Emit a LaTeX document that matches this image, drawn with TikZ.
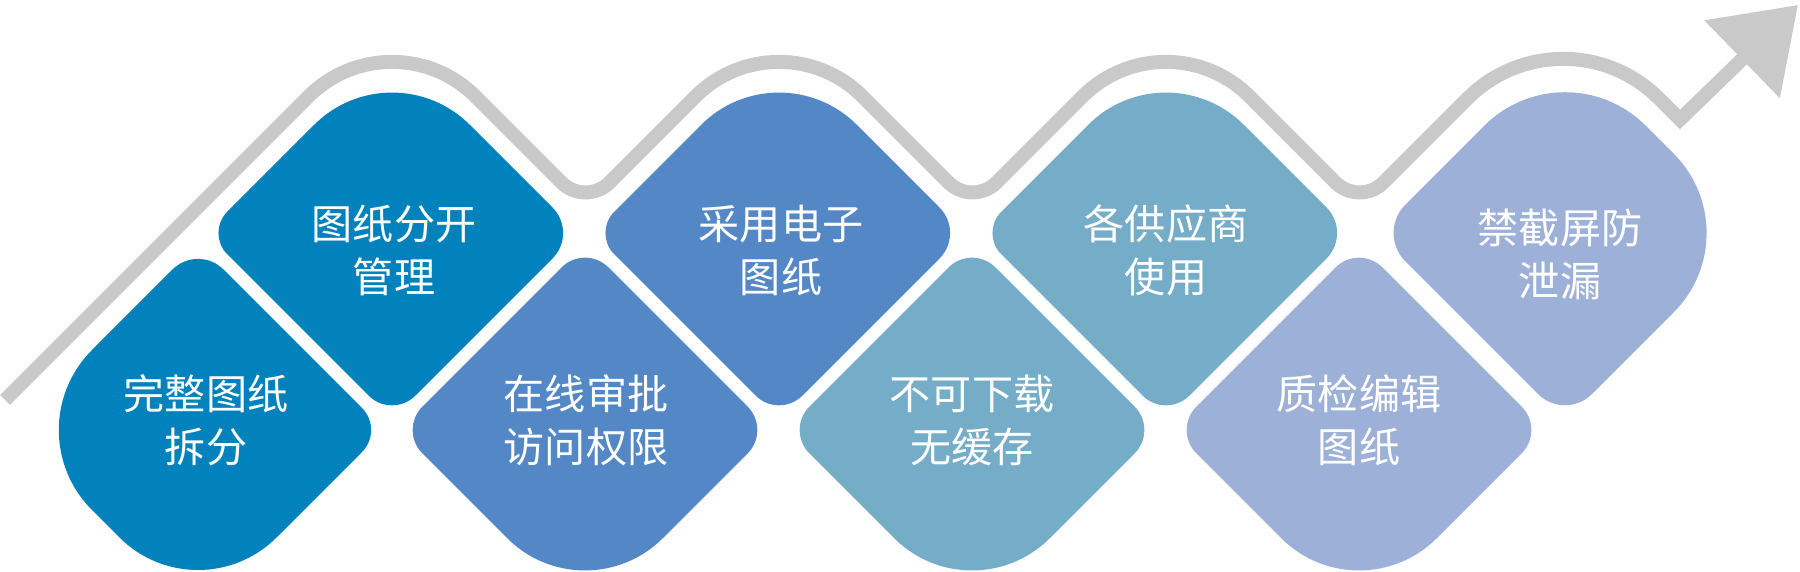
\documentclass[tikz,border=0pt]{standalone}
\usepackage{fontspec}
\newfontfamily\cjk{Noto Sans CJK SC}
\usepackage{tikz}
\usetikzlibrary{arrows.meta}
\definecolor{petalA}{RGB}{2,130,188}
\definecolor{petalB}{RGB}{83,135,197}
\definecolor{petalC}{RGB}{117,173,200}
\definecolor{petalD}{RGB}{157,177,216}
\definecolor{trendgray}{RGB}{201,201,201}
\tikzset{%
  petal text/.style={
    text=white,
    align=center,
    font=\cjk\fontsize{11.7}{15.1}\selectfont
  },
  trend/.style={
    draw=trendgray,
    line width=1.4mm
  },
}
% rounded diamond: colour, x, y, half diagonal, radius top, right, bottom, left
\newcommand{\petal}[8]{%
  \fill[#1] ({#2-0.7071*#5},{#3+#4-0.7071*#5}) arc[start angle=135,end angle=45,radius=#5]
    -- ({#2+#4-0.7071*#6},{#3+0.7071*#6}) arc[start angle=45,end angle=-45,radius=#6]
    -- ({#2+0.7071*#7},{#3-#4+0.7071*#7}) arc[start angle=-45,end angle=-135,radius=#7]
    -- ({#2-#4+0.7071*#8},{#3-0.7071*#8}) arc[start angle=225,end angle=135,radius=#8]
    -- cycle;}

\begin{document}
\begin{tikzpicture}[x=0.1mm,y=0.1mm]
  \useasboundingbox (0,0) rectangle (1800,571);
  % trend line
  \draw[trend,-{Triangle[length=7.8mm,width=10.5mm]}] (5,171)
    [rounded corners=11.8mm] -- (392,558)
    [rounded corners=3.4mm] -- (585.5,364.5)
    [rounded corners=11.8mm] -- (779,558)
    [rounded corners=3.4mm] -- (972.5,364.5)
    [rounded corners=11.8mm] -- (1166,558)
    [rounded corners=3.4mm] -- (1359.5,364.5)
    [rounded corners=13.5mm] -- (1563,568)
    [sharp corners] -- (1680,451.5) -- (1798,566);
  % lower row
  \petal{petalA}{198}{141}{186}{36}{31}{111}{113}
  \petal{petalB}{585}{141}{186}{33}{33}{110}{33}
  \petal{petalC}{972}{141}{186}{33}{33}{110}{33}
  \petal{petalD}{1359}{141}{186}{33}{33}{110}{33}
  % upper row
  \petal{petalA}{392}{338}{186}{110}{36}{33}{30}
  \petal{petalB}{779}{338}{186}{110}{36}{33}{30}
  \petal{petalC}{1166}{338}{186}{110}{36}{33}{30}
  \petal{petalD}{1565}{338}{188}{114}{112}{38}{40}
  % labels
  \foreach \n/\x/\y/\t in {L1/206/151/{完整图纸\\拆分}, L2/586/151/{在线审批\\访问权限},
      L3/972/151/{不可下载\\无缓存}, L4/1359/151/{质检编辑\\图纸},
      U1/394/321/{图纸分开\\管理}, U2/781/321/{采用电子\\图纸},
      U3/1166/321/{各供应商\\使用}, U4/1560/317/{禁截屏防\\泄漏}} {
    \node[petal text] (\n) at (\x,\y) {\t};
  }
\end{tikzpicture}
\end{document}
